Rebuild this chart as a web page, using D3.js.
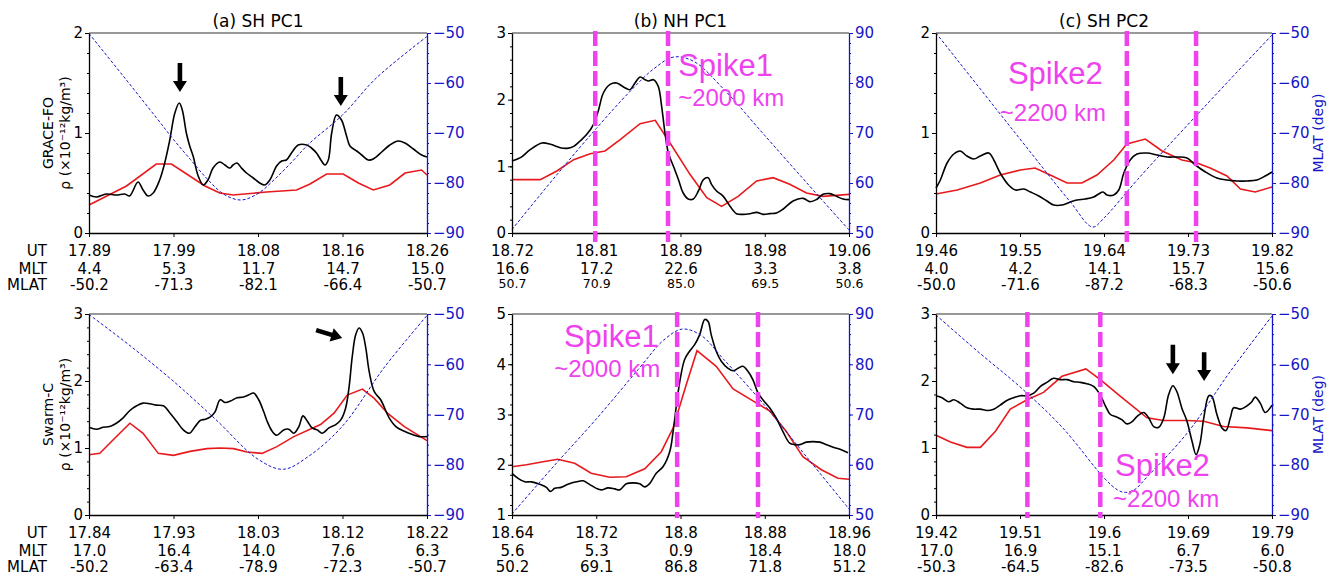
<!DOCTYPE html>
<html>
<head>
<meta charset="utf-8">
<script src="https://cdn.jsdelivr.net/npm/d3@7"></script>
<style>
  body { margin: 0; background: #fff; }
  svg { display: block; font-family: "DejaVu Sans", sans-serif; }
</style>
</head>
<body>
<svg id="chart" width="1334" height="575"></svg>
<script>
// x is percent along the pass: 0 = first UT tick, 100 = last UT tick
const xTicks = [0, 25, 50, 75, 100];

// (a) SH PC1, GRACE-FO
const aTopUT = ['17.89', '17.99', '18.08', '18.16', '18.26'];
const aTopMLT = ['4.4', '5.3', '11.7', '14.7', '15.0'];
const aTopMLAT = ['-50.2', '-71.3', '-82.1', '-66.4', '-50.7'];
const aTopRho = [[0,0.38],[2.2,0.36],[5.1,0.39],[8.1,0.38],[10.6,0.39],[12,0.37],[14.5,0.51],[16,0.43],[17.5,0.37],[19,0.4],[20.9,0.53],[22.4,0.7],[23.9,0.93],[25.4,1.2],[26.7,1.3],[27.6,1.23],[28.8,1.0],[29.8,0.87],[30.8,0.77],[32.3,0.57],[33.8,0.48],[35.2,0.53],[36.7,0.65],[38.7,0.71],[40.2,0.68],[41.7,0.65],[42.6,0.68],[43.8,0.7],[45.1,0.65],[46.6,0.6],[48.6,0.55],[50.5,0.5],[52,0.48],[53.5,0.53],[55.5,0.67],[57,0.72],[58.4,0.73],[59.9,0.8],[61.9,0.88],[64.4,0.88],[65.8,0.85],[67.3,0.8],[68.8,0.72],[69.8,0.68],[70.8,0.73],[71.8,1.0],[73.2,1.18],[74.7,1.13],[76.2,0.97],[77.2,0.87],[79.2,0.82],[80.7,0.78],[82.6,0.73],[84.1,0.74],[86.6,0.81],[89,0.88],[91.5,0.92],[93.5,0.9],[96,0.84],[98.4,0.78],[100,0.76]];
const aTopModel = [[0,0.28],[11.1,0.47],[19.9,0.69],[24.4,0.69],[34.3,0.47],[38.7,0.4],[42.6,0.38],[52.5,0.41],[61.4,0.43],[65.4,0.49],[70.3,0.59],[75.2,0.59],[79.7,0.5],[84.1,0.43],[89,0.48],[93.5,0.6],[98.4,0.63],[100,0.58]];
const aTopTrack = [[0,-50.1],[10,-58.5],[20,-67],[25,-71.3],[30,-75.3],[35,-79.2],[40,-82.3],[45,-83.4],[50,-82.1],[55,-79.2],[60,-75.8],[65,-72.2],[75,-66.4],[85,-59],[100,-50.7]];

// (b) NH PC1, GRACE-FO
const bTopUT = ['18.72', '18.81', '18.89', '18.98', '19.06'];
const bTopMLT = ['16.6', '17.2', '22.6', '3.3', '3.8'];
const bTopMLAT = ['50.7', '70.9', '85.0', '69.5', '50.6'];
const bTopRho = [[0,1.08],[2.5,1.13],[5.4,1.25],[8.9,1.35],[11.4,1.33],[14.3,1.28],[16.3,1.27],[18.3,1.3],[20.2,1.38],[22.2,1.48],[24.2,1.63],[25.7,1.85],[27.1,2.1],[29.1,2.23],[31.1,2.25],[33.1,2.19],[35,2.15],[36.5,2.25],[38,2.34],[39.5,2.3],[40.5,2.28],[42,2.3],[43.4,2.2],[44.4,1.9],[45.4,1.5],[46.4,1.2],[47.9,1.0],[49.4,0.8],[50.8,0.6],[52.3,0.51],[53.8,0.51],[55.3,0.63],[56.8,0.8],[58.2,0.83],[59.2,0.73],[60.7,0.63],[62.7,0.55],[64.7,0.4],[66.6,0.29],[68.6,0.28],[70.6,0.29],[72.6,0.31],[74.5,0.28],[76.5,0.29],[78.5,0.3],[80.5,0.36],[83.4,0.48],[86.4,0.52],[88.4,0.47],[90.3,0.5],[92.3,0.58],[94.3,0.59],[96.3,0.55],[98.2,0.51],[100,0.5]];
const bTopModel = [[0,0.8],[8.4,0.8],[13.3,0.93],[18.3,1.1],[23.2,1.19],[27.6,1.23],[32.1,1.4],[38,1.64],[42.5,1.69],[46.9,1.35],[52.8,0.88],[57.8,0.53],[62.2,0.4],[67.1,0.55],[72.6,0.78],[77.5,0.83],[82.4,0.73],[87.4,0.6],[92.3,0.55],[100,0.58]];
const bTopTrack = [[0,50.7],[12.5,61],[25,70.9],[35,78.3],[42,82.8],[48,85.2],[54,84.3],[62.5,79],[75,69.5],[87.5,60],[100,50.6]];

// (c) SH PC2, GRACE-FO
const cTopUT = ['19.46', '19.55', '19.64', '19.73', '19.82'];
const cTopMLT = ['4.0', '4.2', '14.1', '15.7', '15.6'];
const cTopMLAT = ['-50.0', '-71.6', '-87.2', '-68.3', '-50.6'];
const cTopRho = [[0,0.45],[1.3,0.53],[3.3,0.7],[5.3,0.79],[7.2,0.82],[9.2,0.77],[11.2,0.74],[13.2,0.77],[15.7,0.8],[17.2,0.73],[19.1,0.6],[21.6,0.48],[23.6,0.43],[26.1,0.44],[28.1,0.41],[30.6,0.37],[33,0.32],[35,0.28],[37.5,0.28],[40,0.31],[42,0.33],[44.4,0.34],[46.9,0.36],[48.4,0.39],[49.7,0.41],[50.9,0.38],[52.9,0.38],[54.4,0.43],[55.9,0.6],[57.8,0.73],[59.8,0.79],[62.8,0.8],[65.8,0.78],[68.8,0.76],[71.7,0.76],[74.7,0.75],[77.2,0.68],[80.2,0.61],[83.6,0.55],[86.6,0.53],[89.6,0.52],[92.6,0.52],[95.5,0.53],[98,0.57],[100,0.61]];
const cTopModel = [[0,0.39],[6.3,0.43],[13.2,0.5],[19.1,0.58],[25.1,0.63],[29.5,0.65],[34,0.58],[39,0.5],[43.4,0.5],[47.9,0.58],[52.9,0.73],[56.8,0.89],[62.3,0.94],[67.3,0.82],[73.2,0.73],[77.7,0.7],[81.6,0.65],[86.6,0.57],[90.6,0.44],[95,0.41],[100,0.46]];
const cTopTrack = [[0,-50],[25,-71.2],[40,-83.8],[46.6,-88.8],[50,-87],[60,-79.3],[75,-68.3],[87.5,-59.3],[100,-50.4]];

// (a) bottom, Swarm-C
const aBotUT = ['17.84', '17.93', '18.03', '18.12', '18.22'];
const aBotMLT = ['17.0', '16.4', '14.0', '7.6', '6.3'];
const aBotMLAT = ['-50.2', '-63.4', '-78.9', '-72.3', '-50.7'];
const aBotRho = [[0,1.31],[2.2,1.28],[4.2,1.31],[6.1,1.32],[8.1,1.37],[10.1,1.45],[12.1,1.56],[14.1,1.63],[16,1.67],[18,1.66],[20,1.64],[22,1.63],[24,1.52],[25.9,1.4],[27.9,1.27],[29.7,1.22],[31.4,1.32],[32.9,1.41],[34.4,1.43],[35.8,1.46],[37.3,1.54],[38.8,1.72],[40.3,1.68],[41.8,1.7],[43.8,1.75],[45.7,1.76],[47.2,1.79],[48.7,1.82],[50.2,1.72],[51.7,1.54],[52.7,1.4],[54.2,1.25],[55.6,1.19],[57.6,1.27],[59.1,1.28],[60.6,1.22],[62.1,1.32],[63.3,1.48],[64.6,1.4],[66,1.3],[67.5,1.27],[69,1.22],[71,1.3],[73,1.35],[74.5,1.42],[75.9,1.59],[76.9,1.89],[77.9,2.37],[78.9,2.69],[79.9,2.79],[80.9,2.72],[81.9,2.49],[82.9,2.14],[84.4,1.84],[86.3,1.72],[88.8,1.45],[90.8,1.32],[93.3,1.25],[95.7,1.2],[97.7,1.17],[100,1.17]];
const aBotModel = [[0,0.9],[3.2,0.92],[7.1,1.12],[12.1,1.37],[16,1.22],[20.5,0.92],[25,0.89],[29.9,0.95],[34.9,0.99],[38.8,1.0],[42.8,0.99],[46.7,0.94],[51.2,0.92],[55.6,1.02],[60.6,1.17],[68.5,1.35],[72.5,1.52],[76.4,1.79],[80.9,1.88],[84.4,1.74],[88.3,1.52],[93.3,1.32],[100,1.11]];
const aBotTrack = [[0,-50.1],[12.5,-56.5],[25,-63.4],[37.5,-71],[50,-78.9],[57.5,-80.9],[65,-78.3],[75,-72.3],[87.5,-60.5],[100,-50.3]];

// (b) bottom, Swarm-C
const bBotUT = ['18.64', '18.72', '18.8', '18.88', '18.96'];
const bBotMLT = ['5.6', '5.3', '0.9', '18.4', '18.0'];
const bBotMLAT = ['50.2', '69.1', '86.8', '71.8', '51.2'];
const bBotRho = [[0,1.83],[1.8,1.73],[3.8,1.66],[5.7,1.66],[8.2,1.61],[10.2,1.55],[11.4,1.47],[12.7,1.53],[14.6,1.55],[16.6,1.61],[19.1,1.66],[21.1,1.68],[23,1.61],[25,1.53],[26.5,1.5],[28.5,1.54],[30.5,1.52],[31.9,1.5],[33.9,1.62],[35.9,1.64],[37.9,1.62],[39.4,1.56],[40.9,1.63],[42.8,1.83],[44.8,1.96],[46.8,2.26],[47.8,2.66],[48.8,3.19],[49.8,3.66],[51.2,4.09],[52.7,4.26],[54.2,4.39],[55.7,4.59],[57.2,4.89],[58.2,4.85],[59.1,4.59],[60.6,4.26],[62.1,4.06],[64.1,3.92],[65.6,3.87],[67.1,3.92],[68.5,3.96],[70,3.86],[71.5,3.69],[73,3.43],[74.5,3.29],[76.5,3.13],[78.4,2.93],[80.4,2.66],[82.4,2.43],[83.9,2.4],[85.4,2.4],[87.3,2.45],[89.3,2.46],[91.3,2.45],[93.3,2.4],[95.3,2.35],[97.7,2.3],[99.7,2.24]];
const bBotModel = [[0,1.96],[4.3,2.0],[9.2,2.06],[13.6,2.11],[18.6,2.03],[23.5,1.83],[29,1.75],[33.9,1.76],[39.4,1.92],[44.3,2.26],[47.8,2.73],[51.7,3.59],[54.9,4.27],[60.6,3.96],[65.6,3.51],[71.5,3.27],[76.5,3.07],[81.4,2.66],[86.3,2.16],[91.8,1.9],[96.7,1.73],[100,1.71]];
const bBotTrack = [[0,50.2],[12.5,59.8],[25,69.1],[37.5,79],[45,84.8],[50.5,87],[56,85.8],[62.5,81.2],[75,71.8],[87.5,61.5],[100,51.2]];

// (c) bottom, Swarm-C
const cBotUT = ['19.42', '19.51', '19.6', '19.69', '19.79'];
const cBotMLT = ['17.0', '16.9', '15.1', '6.7', '6.0'];
const cBotMLAT = ['-50.3', '-64.5', '-82.6', '-73.5', '-50.8'];
const cBotRho = [[0,1.78],[1.8,1.75],[3.8,1.69],[5.3,1.72],[7.2,1.67],[9.2,1.6],[11.2,1.58],[13.2,1.58],[15.2,1.56],[17.2,1.58],[19.1,1.64],[21.1,1.71],[23.1,1.75],[25.1,1.78],[27.1,1.78],[29.1,1.82],[31.1,1.92],[33,1.98],[35,2.04],[37,2.02],[39,2.02],[41,1.99],[43,1.98],[44.9,1.96],[46.9,1.92],[48.9,1.79],[50.4,1.63],[51.9,1.5],[53.9,1.46],[55.4,1.42],[56.8,1.36],[58.3,1.39],[59.8,1.47],[61.8,1.53],[63.3,1.45],[64.8,1.32],[66.3,1.31],[67.8,1.45],[69.2,1.79],[70.5,1.93],[71.7,1.84],[73.2,1.59],[74.7,1.4],[76.2,1.1],[77.4,0.9],[78.5,1.05],[79.7,1.45],[81.2,1.78],[82.1,1.77],[83.6,1.5],[85.1,1.3],[86.3,1.26],[87.6,1.45],[88.6,1.6],[90.6,1.58],[92.6,1.63],[94,1.69],[95,1.76],[96.5,1.67],[98,1.53],[100,1.64]];
const cBotModel = [[0,1.19],[4.3,1.09],[9.2,1.01],[13.2,1.01],[17.7,1.25],[22.1,1.58],[27.1,1.72],[32,1.83],[37.5,2.07],[44.6,2.18],[48.9,2.02],[54.9,1.77],[62.8,1.45],[67.8,1.41],[74.7,1.41],[79.7,1.4],[85.6,1.32],[92.6,1.3],[100,1.26]];
const cBotTrack = [[0,-50.2],[12.5,-57.5],[25,-64.5],[37.5,-72.5],[50,-82.6],[54,-85],[56.3,-85.5],[59,-85],[63,-82.3],[75,-73.5],[87.5,-61.5],[100,-50.4]];

// boundaries of the spikes (percent along pass)
const bTopSpike = [24.7, 46.3];
const cTopSpike = [56.8, 77.4];
const bBotSpike = [49.0, 73.0];
const cBotSpike = [27.2, 48.9];

const rowNames = ['UT', 'MLT', 'MLAT'];

// layout
const cols = [{ x0: 89, x1: 427 }, { x0: 512, x1: 849 }, { x0: 936, x1: 1272 }];
const rows = [{ y0: 33, y1: 233 }, { y0: 314, y1: 515 }];

const BLUE = '#1515c8';
const MAGENTA = '#ee42ee';
const RED = '#e8191c';
const FS = 15;

const panels = [
  { col: 0, row: 0, title: '(a) SH PC1', yDom: [0, 2], hemi: 'S', rho: aTopRho, model: aTopModel, track: aTopTrack,
    ticks: [aTopUT, aTopMLT, aTopMLAT], sat: 'GRACE-FO',
    arrows: [[26.9, 1.70, 26.9, 1.41], [74.5, 1.56, 74.5, 1.27]] },
  { col: 1, row: 0, title: '(b) NH PC1', yDom: [0, 3], hemi: 'N', rho: bTopRho, model: bTopModel, track: bTopTrack,
    ticks: [bTopUT, bTopMLT, bTopMLAT], small: true, spike: bTopSpike, ext: 9,
    notes: [['Spike1', 49.3, 2.35, 31], ['~2000 km', 49.3, 1.90, 24]] },
  { col: 2, row: 0, title: '(c) SH PC2', yDom: [0, 2], hemi: 'S', rho: cTopRho, model: cTopModel, track: cTopTrack,
    ticks: [cTopUT, cTopMLT, cTopMLAT], spike: cTopSpike, ext: 9,
    notes: [['Spike2', 21.4, 1.49, 31], ['~2200 km', 19.0, 1.12, 24]] },
  { col: 0, row: 1, yDom: [0, 3], hemi: 'S', rho: aBotRho, model: aBotModel, track: aBotTrack,
    ticks: [aBotUT, aBotMLT, aBotMLAT], sat: 'Swarm-C',
    arrows: [[67.2, 2.76, 74.9, 2.64]] },
  { col: 1, row: 1, yDom: [1, 5], hemi: 'N', rho: bBotRho, model: bBotModel, track: bBotTrack,
    ticks: [bBotUT, bBotMLT, bBotMLAT], spike: bBotSpike, ext: 3,
    notes: [['Spike1', 15.4, 4.34, 31], ['~2000 km', 12.5, 3.75, 24]] },
  { col: 2, row: 1, yDom: [0, 3], hemi: 'S', rho: cBotRho, model: cBotModel, track: cBotTrack,
    ticks: [cBotUT, cBotMLT, cBotMLAT], spike: cBotSpike, ext: 3,
    notes: [['Spike2', 53.3, 0.58, 31], ['~2200 km', 52.7, 0.12, 24]],
    arrows: [[70.5, 2.54, 70.5, 2.10], [79.8, 2.43, 79.8, 2.00]] }
];

const svg = d3.select('#chart');

function styleAxis(sel, color, size) {
  sel.attr('font-size', size || FS).attr('font-family', null);
  sel.selectAll('line').attr('stroke', color);
  sel.selectAll('path').attr('stroke', color);
  sel.selectAll('text').attr('fill', color);
}

function drawArrow(g, xa, ya, xb, yb) {
  const dx = xb - xa, dy = yb - ya, len = Math.hypot(dx, dy);
  const ux = dx / len, uy = dy / len, nx = -uy, ny = ux;
  const hw = 2.3, hh = 7, hl = 11;
  const bx = xb - ux * hl, by = yb - uy * hl;
  const pts = [
    [xa + nx * hw, ya + ny * hw], [bx + nx * hw, by + ny * hw], [bx + nx * hh, by + ny * hh],
    [xb, yb], [bx - nx * hh, by - ny * hh], [bx - nx * hw, by - ny * hw], [xa - nx * hw, ya - ny * hw]
  ];
  g.append('path').attr('d', 'M' + pts.map(p => p.join(',')).join('L') + 'Z').attr('fill', '#000');
}

panels.forEach((p) => {
  const { x0, x1 } = cols[p.col];
  const { y0, y1 } = rows[p.row];
  const x = d3.scaleLinear().domain([0, 100]).range([x0, x1]);
  const y = d3.scaleLinear().domain(p.yDom).range([y1, y0]);
  const y2 = d3.scaleLinear().domain(p.hemi === 'S' ? [-90, -50] : [50, 90]).range([y1, y0]);
  const g = svg.append('g');

  // density curves and the MLAT track
  g.append('path').datum(p.model)
    .attr('d', d3.line().x(d => x(d[0])).y(d => y(d[1])))
    .attr('fill', 'none').attr('stroke', RED).attr('stroke-width', 1.6);
  g.append('path').datum(p.rho)
    .attr('d', d3.line().x(d => x(d[0])).y(d => y(d[1])).curve(d3.curveCatmullRom.alpha(0.5)))
    .attr('fill', 'none').attr('stroke', '#000').attr('stroke-width', 1.6);
  g.append('path').datum(p.track)
    .attr('d', d3.line().x(d => x(d[0])).y(d => y2(d[1])).curve(d3.curveCatmullRom.alpha(0.5)))
    .attr('fill', 'none').attr('stroke', BLUE).attr('stroke-width', 1)
    .attr('stroke-dasharray', '3,2');

  // axes
  const lo = p.yDom[0], hi = p.yDom[1];
  g.append('line').attr('x1', x0).attr('x2', x1).attr('y1', y0).attr('y2', y0)
    .attr('stroke', '#333').attr('stroke-width', 1.2);

  const yMinor = g.append('g').attr('transform', `translate(${x0},0)`)
    .call(d3.axisLeft(y).tickValues(d3.range(lo, hi + 1e-9, 0.2)).tickSize(2).tickFormat(''));
  yMinor.select('.domain').remove();
  styleAxis(yMinor, '#000');
  const yAx = g.append('g').attr('transform', `translate(${x0},0)`)
    .call(d3.axisLeft(y).tickValues(d3.range(lo, hi + 1e-9, 1)).tickSize(4).tickSizeOuter(0)
      .tickPadding(2).tickFormat(d3.format('d')));
  styleAxis(yAx, '#000', 15);
  yAx.select('.domain').attr('stroke-width', 1.3);

  const rMinor = g.append('g').attr('transform', `translate(${x1},0)`)
    .call(d3.axisRight(y2).tickValues(d3.range(y2.domain()[0], y2.domain()[1] + 1e-9, 2)).tickSize(2).tickFormat(''));
  rMinor.select('.domain').remove();
  styleAxis(rMinor, BLUE);
  const rAx = g.append('g').attr('transform', `translate(${x1},0)`)
    .call(d3.axisRight(y2).tickValues(d3.range(y2.domain()[0], y2.domain()[1] + 1e-9, 10)).tickSize(4)
      .tickSizeOuter(0).tickPadding(2).tickFormat(d => (d < 0 ? '\u2212' + Math.abs(d) : d)));
  styleAxis(rAx, BLUE, 15);
  rAx.select('.domain').attr('stroke-width', 1.3);

  // UT / MLT / MLAT rows
  const pads = [8.3, 30.3, 46.3];
  p.ticks.forEach((labels, k) => {
    const ax = g.append('g').attr('transform', `translate(0,${y1})`)
      .call(d3.axisBottom(x).tickValues(xTicks).tickSize(k === 0 ? 4 : 0).tickSizeOuter(0)
        .tickPadding(pads[k]).tickFormat((d, i) => labels[i]));
    styleAxis(ax, '#000', k === 2 && p.small ? 12.5 : FS);
    if (k === 0) ax.select('.domain').attr('stroke-width', 1.3);
    else ax.select('.domain').remove();
  });

  if (p.col === 0) {
    rowNames.forEach((t, k) => {
      g.append('text').attr('x', 47).attr('y', y1 + [23, 41, 57][k])
        .attr('text-anchor', 'end').attr('font-size', FS).text(t);
    });
    const ym = (y0 + y1) / 2;
    const lab = g.append('text').attr('transform', `translate(0,${ym}) rotate(-90)`)
      .attr('text-anchor', 'middle').attr('font-size', 14);
    lab.append('tspan').attr('x', 0).attr('y', 53).text(p.sat);
    lab.append('tspan').attr('x', 0).attr('y', 70).text('\u03c1 (\u00d710\u207b\u00b9\u00b2kg/m\u00b3)');
  }
  if (p.col === 2) {
    g.append('text').attr('transform', `translate(1323,${(y0 + y1) / 2}) rotate(-90)`)
      .attr('text-anchor', 'middle').attr('font-size', 14).attr('fill', BLUE).text('MLAT (deg)');
  }
  if (p.title) {
    g.append('text').attr('x', (x0 + x1) / 2).attr('y', y0 - 6)
      .attr('text-anchor', 'middle').attr('font-size', 17).text(p.title);
  }

  // spike boundaries and notes
  if (p.spike) {
    g.selectAll('line.spike').data(p.spike).join('line').attr('class', 'spike')
      .attr('x1', d => x(d)).attr('x2', d => x(d))
      .attr('y1', y0 - 2).attr('y2', y1 + p.ext)
      .attr('stroke', MAGENTA).attr('stroke-width', 4.5).attr('stroke-dasharray', '15,5');
  }
  (p.notes || []).forEach(n => {
    g.append('text').attr('x', x(n[1])).attr('y', y(n[2]))
      .attr('font-family', '"Liberation Sans", Arial, sans-serif')
      .attr('font-size', n[3]).attr('fill', MAGENTA).text(n[0]);
  });
  (p.arrows || []).forEach(a => drawArrow(g, x(a[0]), y(a[1]), x(a[2]), y(a[3])));
});
</script>
</body>
</html>
